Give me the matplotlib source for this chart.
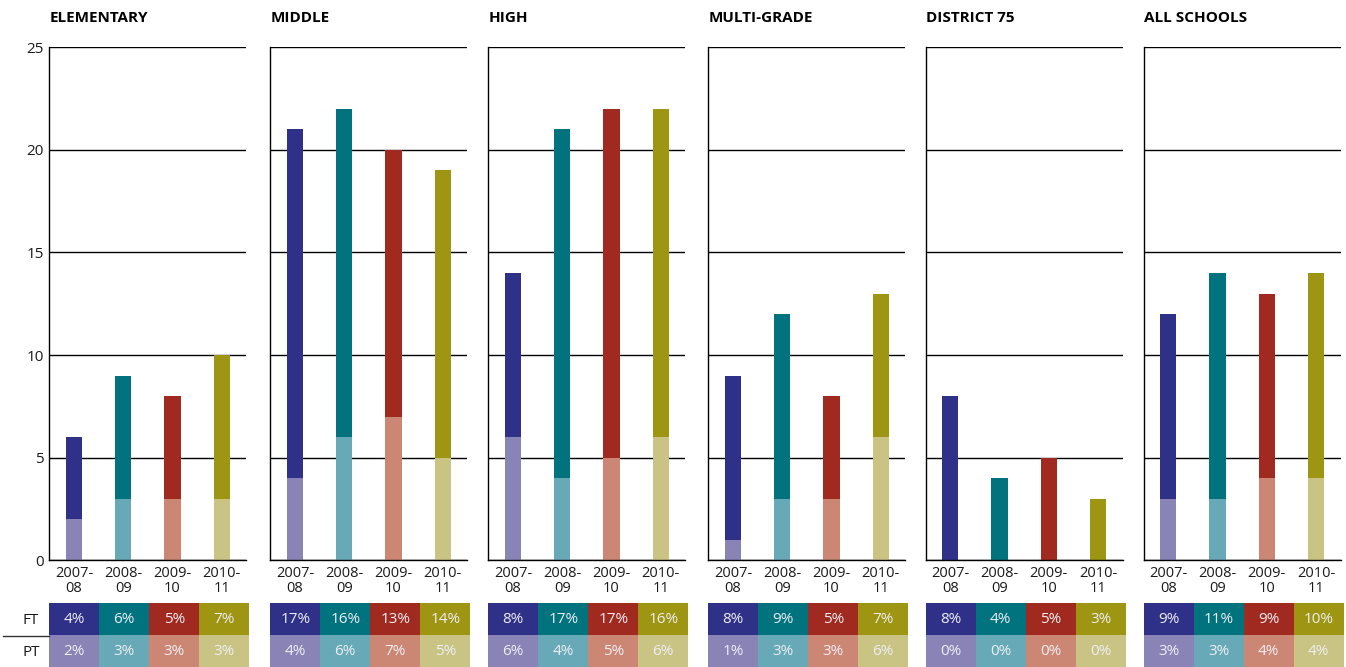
import matplotlib
matplotlib.use("Agg")
import matplotlib.pyplot as plt
from matplotlib.lines import Line2D

# ---------------- data ----------------
groups = ["ELEMENTARY", "MIDDLE", "HIGH", "MULTI-GRADE", "DISTRICT 75", "ALL SCHOOLS"]
years = ["2007-\n08", "2008-\n09", "2009-\n10", "2010-\n11"]
ft_values = [
    [4, 6, 5, 7],
    [17, 16, 13, 14],
    [8, 17, 17, 16],
    [8, 9, 5, 7],
    [8, 4, 5, 3],
    [9, 11, 9, 10],
]
pt_values = [
    [2, 3, 3, 3],
    [4, 6, 7, 5],
    [6, 4, 5, 6],
    [1, 3, 3, 6],
    [0, 0, 0, 0],
    [3, 3, 4, 4],
]
row_labels = ["FT", "PT"]
y_ticks = [0, 5, 10, 15, 20, 25]

ft_colors = ["#2F3088", "#00737F", "#A12A20", "#9E9513"]
pt_colors = ["#8983B6", "#67A9B7", "#CC8774", "#C9C484"]

plt.rcParams["font.family"] = ["Open Sans", "DejaVu Sans"]

W, H = 1346, 667
fig = plt.figure(figsize=(W / 100, H / 100), dpi=100)

panel_left = [49.3, 270.3, 488.3, 708.3, 925.7, 1143.7]
panel_w = 197
y_top, y_bot = 47.3, 560.3
tab_top, tab_bot = 603, 667
tab_w = 200


def fx(px):
    return px / W


def fy(py):
    return 1 - py / H


text_dark = "#1a1a1a"

for i, name in enumerate(groups):
    left = panel_left[i]
    ax = fig.add_axes([fx(left), fy(y_bot), panel_w / W, (y_bot - y_top) / H])
    x = list(range(len(years)))
    ax.bar(x, pt_values[i], width=0.33, color=pt_colors, zorder=2)
    ax.bar(x, ft_values[i], bottom=pt_values[i], width=0.33, color=ft_colors, zorder=2)
    ax.set_xlim(-0.5, 3.5)
    ax.set_ylim(0, 25)
    ax.set_yticks(y_ticks)
    ax.set_axisbelow(True)
    ax.yaxis.grid(True, color="black", linewidth=1.0)
    ax.set_xticks(x)
    ax.set_xticklabels(years, fontsize=10.5, linespacing=1.0, color=text_dark)
    ax.tick_params(axis="both", length=0, pad=4)
    ax.tick_params(axis="y", labelsize=11, colors=text_dark)
    if i != 0:
        ax.set_yticklabels([])
    for s in ["top", "right"]:
        ax.spines[s].set_visible(False)
    for s in ["left", "bottom"]:
        ax.spines[s].set_linewidth(1.0)
        ax.spines[s].set_color("black")
    ax.set_title(name, loc="left", fontsize=11, fontweight="bold", pad=18, color="black")

    # table below the panel
    tax = fig.add_axes([fx(left), 0, tab_w / W, (tab_bot - tab_top) / H])
    tax.set_xlim(0, 4)
    tax.set_ylim(0, 2)
    tax.bar(x, [1] * 4, bottom=1, width=1, align="edge", color=ft_colors, linewidth=0)
    tax.bar(x, [1] * 4, bottom=0, width=1, align="edge", color=pt_colors, linewidth=0)
    for j in x:
        tax.text(j + 0.5, 1.47, f"{ft_values[i][j]}%", ha="center", va="center",
                 color="#EEEEF4", fontsize=11)
        tax.text(j + 0.5, 0.47, f"{pt_values[i][j]}%", ha="center", va="center",
                 color="#EEEEF4", fontsize=11)
    tax.axis("off")

# row labels and separator
fig.text(fx(31), fy(620), row_labels[0], ha="center", va="center", fontsize=11, color=text_dark)
fig.text(fx(31), fy(652), row_labels[1], ha="center", va="center", fontsize=11, color=text_dark)
fig.add_artist(Line2D([fx(3), fx(49)], [fy(636), fy(636)], color="#333333", linewidth=1.0))

fig.savefig("out.png", dpi=100)
